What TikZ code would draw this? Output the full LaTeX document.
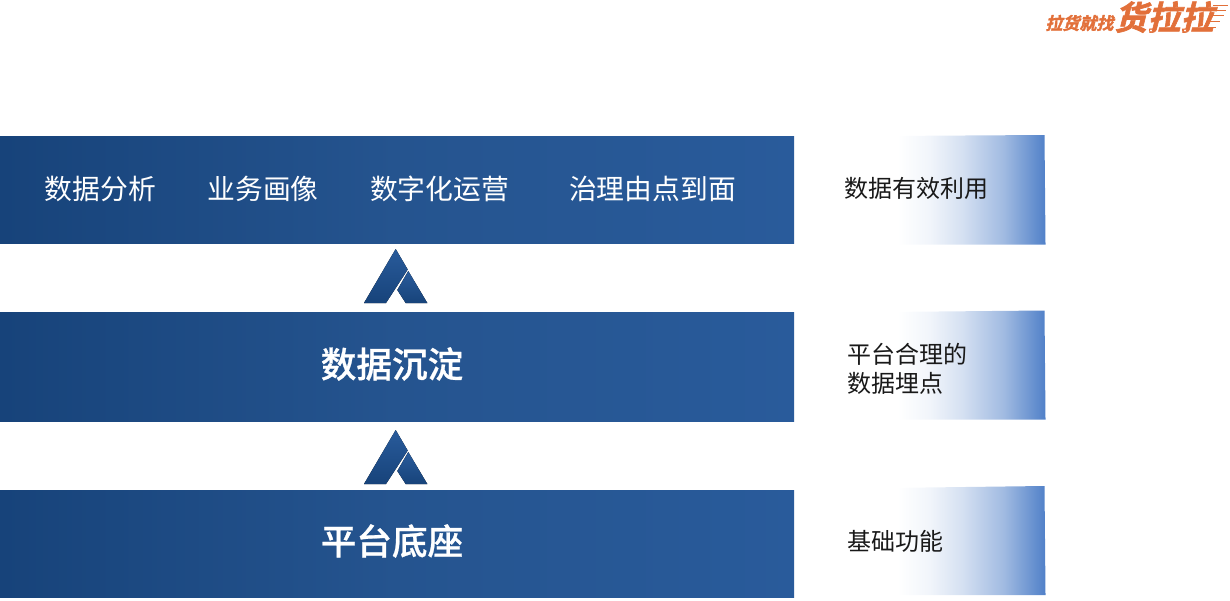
\documentclass[tikz,border=0pt]{standalone}
\usepackage{fontspec}
\usepackage{xcolor}
\newfontfamily\cjk{Noto Sans CJK SC}
\newfontfamily\cjkmid[FakeBold=0.7]{Noto Sans CJK SC Medium}
\newfontfamily\cjkheavy[FakeBold=2]{Noto Sans CJK SC Bold}
\usetikzlibrary{calc}
\definecolor{barblue}{HTML}{295B9B}
\definecolor{barmid}{HTML}{25548F}
\definecolor{bardark}{HTML}{17437A}
\definecolor{panelblue}{HTML}{5080C8}
\definecolor{logoorange}{HTML}{E2703A}
\pgfdeclarehorizontalshading{barfade}{100bp}{color(0bp)=(bardark); color(25bp)=(bardark); color(50bp)=(barmid); color(75bp)=(barblue); color(100bp)=(barblue)}
\pgfdeclarehorizontalshading{panelfade}{100bp}{color(0bp)=(white); color(25bp)=(white); color(29bp)=(white); color(39bp)=(panelblue!8!white); color(49bp)=(panelblue!24!white); color(62bp)=(panelblue!54!white); color(75bp)=(panelblue); color(100bp)=(panelblue)}
\tikzset{
  bar/.style={rectangle, anchor=north west, inner sep=0pt, minimum width=794pt, shading=barfade, text=white},
  bartext/.style={text=white, inner sep=0pt, font=\cjk\fontsize{27.8}{28}\selectfont},
  bigtext/.style={text=white, inner sep=0pt, font=\cjkmid\fontsize{35.6}{36}\selectfont},
  sidetext/.style={text=black!90, inner sep=0pt, align=left, anchor=west, font=\cjk\fontsize{24}{29}\selectfont},
  panel/.style={shading=panelfade},
  wedge/.style={top color=barblue, bottom color=bardark},
  logotext/.style={text=logoorange, inner sep=0pt, xslant=0.25, anchor=center},
  wheel/.style={circle, draw=logoorange, fill=white, inner sep=0pt, minimum size=3.5pt},
  speedline/.style={logoorange, line width=0.8pt}
}
\newcommand{\peak}[2]{
  \begin{scope}[shift={(#1,#2)}]
    \fill[wedge] (0,0) -- (12,20.5) -- (-9.7,54) -- (-31.7,54) -- cycle;
    \fill[wedge] (12.6,22) -- (31.6,54) -- (10,54) -- (1.6,41) -- cycle;
  \end{scope}
}
\begin{document}
\begin{tikzpicture}[x=1pt, y=-1pt]
  \useasboundingbox (0,0) rectangle (1230,600);

  \node[bar, minimum height=107.6pt] (top) at (0,136) {};
  \node[bar, minimum height=109.6pt] (mid) at (0,312) {};
  \node[bar, minimum height=107.6pt] (low) at (0,490) {};

  \node[bartext] (analysis) at (100.5,188.5) {数据分析};
  \node[bartext] (portrait) at (263,188.5) {业务画像};
  \node[bartext] (operate) at (439.5,188.5) {数字化运营};
  \node[bartext] (govern) at (652.5,188.5) {治理由点到面};
  \node[bigtext] (settle) at (392,364) {数据沉淀};
  \node[bigtext] (base) at (392,541) {平台底座};

  \peak{395.7}{249}
  \peak{395.7}{430}

  \path[panel] (885,136) -- (1044.5,135) -- (1045.5,244.5) -- (885,244.5) -- cycle;
  \path[panel] (885,312) -- (1044.5,310.5) -- (1045.5,419.5) -- (885,419.5) -- cycle;
  \path[panel] (885,488) -- (1044.5,486) -- (1045.5,595) -- (885,595) -- cycle;

  \node[sidetext] (use) at (844.5,188) {数据有效利用};
  \node[sidetext] (track) at (847.5,369) {平台合理的\\数据埋点};
  \node[sidetext] (basic) at (847.5,541) {基础功能};

  \node[logotext, font=\cjkheavy\fontsize{17}{17}\selectfont] (slogan) at (1081,23) {拉货就找};
  \node[logotext, font=\cjkheavy\fontsize{33}{33}\selectfont] (brand) at (1167,17) {货拉拉};
  \node[wheel] (wheelone) at (1151,30.5) {};
  \node[wheel] (wheeltwo) at (1185,30.5) {};
  \foreach \y/\xa/\xb in {5/1213/1228, 10/1212/1226, 15/1210/1224, 21/1208/1220, 27/1206/1216}{
    \draw[speedline] (\xa,\y) -- (\xb,\y);
  }
\end{tikzpicture}
\end{document}
